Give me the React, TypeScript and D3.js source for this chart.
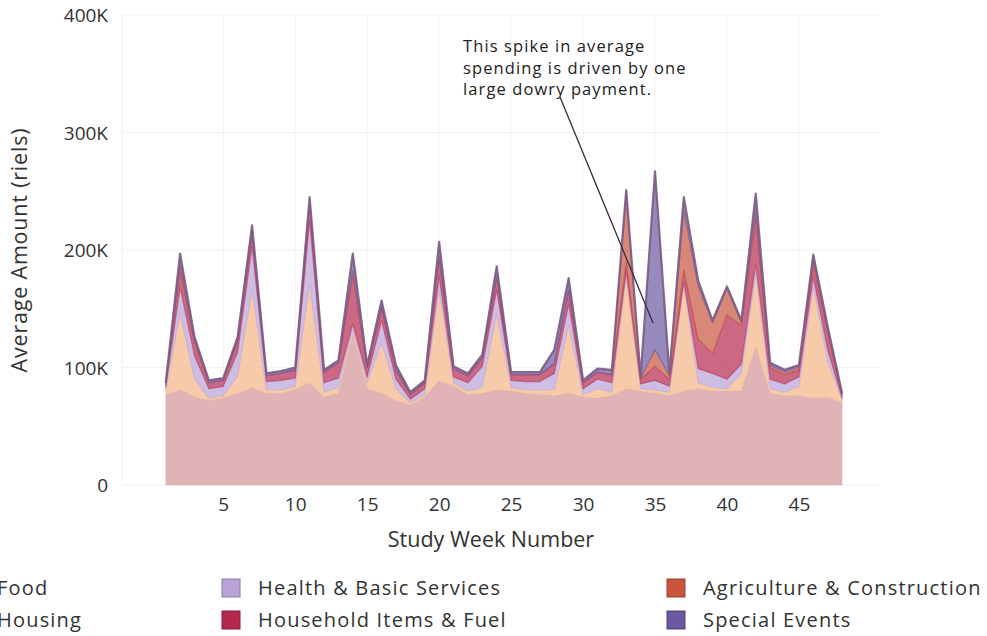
import React, { useEffect, useRef } from 'react';
import * as d3 from 'd3';

// weekly averages, thousands of riels
const weeks = [1, 2, 3, 4, 5, 6, 7, 8, 9, 10, 11, 12, 13, 14, 15, 16, 17, 18, 19, 20, 21, 22, 23, 24,
  25, 26, 27, 28, 29, 30, 31, 32, 33, 34, 35, 36, 37, 38, 39, 40, 41, 42, 43, 44, 45, 46, 47, 48];

const food = [77, 81, 75, 72, 74, 78, 83, 78, 78, 81, 87, 75, 78, 129, 82, 78, 72, 68, 75, 89, 84, 77, 78, 81,
  80, 78, 77, 76, 78, 75, 74, 76, 82, 80, 78, 76, 80, 82, 80, 80, 80, 118, 78, 76, 76, 74, 75, 70];
const housing = [3, 65, 15, 2, 2, 15, 83, 3, 3, 3, 85, 4, 5, 3, 5, 43, 10, 2, 2, 77, 3, 3, 5, 65,
  3, 3, 4, 5, 58, 2, 8, 3, 95, 2, 3, 3, 90, 5, 3, 2, 15, 62, 4, 3, 8, 95, 30, 2];
const health = [3, 22, 20, 8, 8, 20, 37, 7, 8, 7, 53, 8, 8, 5, 5, 19, 8, 3, 5, 11, 5, 7, 18, 20,
  6, 7, 7, 14, 18, 5, 8, 8, 5, 4, 8, 5, 3, 12, 12, 8, 8, 8, 8, 7, 8, 8, 10, 2];
const household = [3, 17, 12, 5, 5, 10, 13, 5, 6, 7, 15, 9, 13, 42, 8, 11, 8, 4, 5, 17, 7, 6, 7, 11,
  5, 6, 6, 8, 12, 5, 6, 7, 8, 4, 12, 6, 10, 25, 17, 55, 33, 40, 10, 8, 6, 12, 15, 2];
const agriculture = [0, 2, 1, 0, 0, 0, 0, 0, 0, 0, 0, 0, 0, 3, 0, 0, 0, 0, 0, 0, 0, 0, 0, 0,
  0, 0, 0, 0, 0, 0, 0, 0, 58, 1, 14, 3, 50, 45, 26, 22, 2, 5, 2, 2, 2, 3, 2, 1];
const specialEvents = [1, 10, 3, 2, 2, 3, 5, 2, 2, 2, 5, 2, 2, 15, 2, 6, 4, 2, 2, 13, 2, 2, 3, 9,
  2, 2, 2, 12, 10, 2, 3, 4, 3, 1, 152, 2, 12, 5, 2, 2, 2, 15, 2, 2, 2, 4, 3, 1];

const categories = ['Food', 'Housing', 'Health & Basic Services', 'Household Items & Fuel', 'Agriculture & Construction', 'Special Events'];
const colors = ['#d39497', '#f4b586', '#b9a3d8', '#b5284e', '#c8553f', '#6b58a0'];
const yTicks = [0, 100, 200, 300, 400];
const xTicks = [5, 10, 15, 20, 25, 30, 35, 40, 45];
const noteLines = ['This spike in average', 'spending is driven by one', 'large dowry payment.'];

const W = 987, H = 636;
const font = '"Open Sans", Roboto, sans-serif';

export default function App() {
  const ref = useRef<SVGSVGElement | null>(null);

  useEffect(() => {
    if (!ref.current) return;
    const svg = d3.select(ref.current);
    svg.selectAll('*').remove();

    const series = [food, housing, health, household, agriculture, specialEvents];
    const rows = weeks.map((w, i) => {
      const r: any = { week: w };
      categories.forEach((c, k) => { r[c] = series[k][i]; });
      return r;
    });
    const stacked = d3.stack().keys(categories)(rows);

    const x = d3.scaleLinear().domain([1, 48]).range([165.7, 842.1]);
    const y = d3.scaleLinear().domain([0, 400]).range([485, 15]);

    // faint grid
    const grid = svg.append('g').attr('stroke', '#f1f1f1').attr('stroke-width', 1);
    grid.selectAll('line.h').data(yTicks).join('line')
      .attr('x1', 122).attr('x2', 880)
      .attr('y1', d => y(d)).attr('y2', d => y(d));
    grid.selectAll('line.v').data(xTicks).join('line')
      .attr('x1', d => x(d)).attr('x2', d => x(d))
      .attr('y1', y(400)).attr('y2', y(0));
    grid.append('line').attr('x1', 122).attr('x2', 122).attr('y1', y(400)).attr('y2', y(0));

    const area = d3.area<any>()
      .x(d => x(d.data.week))
      .y0(d => y(d[0]))
      .y1(d => y(d[1]));

    svg.append('g').selectAll('path').data(stacked).join('path')
      .attr('d', area)
      .attr('fill', (d, i) => colors[i])
      .attr('fill-opacity', 0.7)
      .attr('stroke', (d, i) => colors[i])
      .attr('stroke-opacity', (d, i) => (i < 2 ? 0.2 : 0.45))
      .attr('stroke-width', 1.2)
      .attr('stroke-linejoin', 'round');

    // darker outline along the top of the stack
    const top = stacked[stacked.length - 1];
    svg.append('path')
      .datum(top)
      .attr('d', d3.line<any>().x(d => x(d.data.week)).y(d => y(d[1])))
      .attr('fill', 'none')
      .attr('stroke', '#7b5a82')
      .attr('stroke-opacity', 0.85)
      .attr('stroke-width', 2.2)
      .attr('stroke-linejoin', 'round');

    // y axis
    const yAxis = svg.append('g').attr('transform', 'translate(108,0)')
      .call(d3.axisLeft(y).tickValues(yTicks).tickSize(0).tickPadding(0)
        .tickFormat(d => (d === 0 ? '0' : `${d}K`)));
    yAxis.select('.domain').remove();
    yAxis.selectAll('text').attr('font-family', font).attr('font-size', 19).attr('fill', '#333').attr('dy', '0.35em');

    // x axis
    const xAxis = svg.append('g').attr('transform', `translate(0,${y(0)})`)
      .call(d3.axisBottom(x).tickValues(xTicks).tickSize(0).tickPadding(13));
    xAxis.select('.domain').remove();
    xAxis.selectAll('text').attr('font-family', font).attr('font-size', 19).attr('fill', '#333');

    svg.append('text').attr('x', 491).attr('y', 547).attr('text-anchor', 'middle')
      .attr('font-family', font).attr('font-size', 21.5).attr('fill', '#333').text('Study Week Number');
    svg.append('text').attr('transform', 'translate(27,250) rotate(-90)').attr('text-anchor', 'middle')
      .attr('font-family', font).attr('font-size', 21.5).attr('letter-spacing', 0.8)
      .attr('fill', '#333').text('Average Amount (riels)');

    // annotation
    const note = svg.append('text').attr('font-family', font).attr('font-size', 16.5)
      .attr('letter-spacing', 1.1).attr('fill', '#222');
    noteLines.forEach((t, i) => note.append('tspan').attr('x', 463).attr('y', 52 + i * 21.5).text(t));
    svg.append('line').attr('x1', 560).attr('y1', 97).attr('x2', x(35) - 2).attr('y2', 323)
      .attr('stroke', '#3a2b3a').attr('stroke-width', 1.3);

    // legend
    const legendPos = [[-40, 588], [-40, 620], [222, 588], [222, 620], [667, 588], [667, 620]];
    const leg = svg.append('g').selectAll('g').data(categories).join('g')
      .attr('transform', (d, i) => `translate(${legendPos[i][0]},${legendPos[i][1]})`);
    leg.append('rect').attr('x', 0).attr('y', -9).attr('width', 18).attr('height', 18)
      .attr('fill', (d, i) => colors[i])
      .attr('stroke', (d, i) => d3.color(colors[i])!.darker(0.8).toString()).attr('stroke-width', 1);
    leg.append('text').attr('x', (d, i) => (i < 2 ? 37 : 36)).attr('dy', '0.35em')
      .attr('font-family', font).attr('font-size', 20).attr('letter-spacing', 1.2)
      .attr('fill', '#333').text(d => d);
  }, []);

  return (
    <svg ref={ref} width={W} height={H} viewBox={`0 0 ${W} ${H}`}
      style={{ position: 'absolute', left: 0, top: 0, background: '#fff' }} />
  );
}
